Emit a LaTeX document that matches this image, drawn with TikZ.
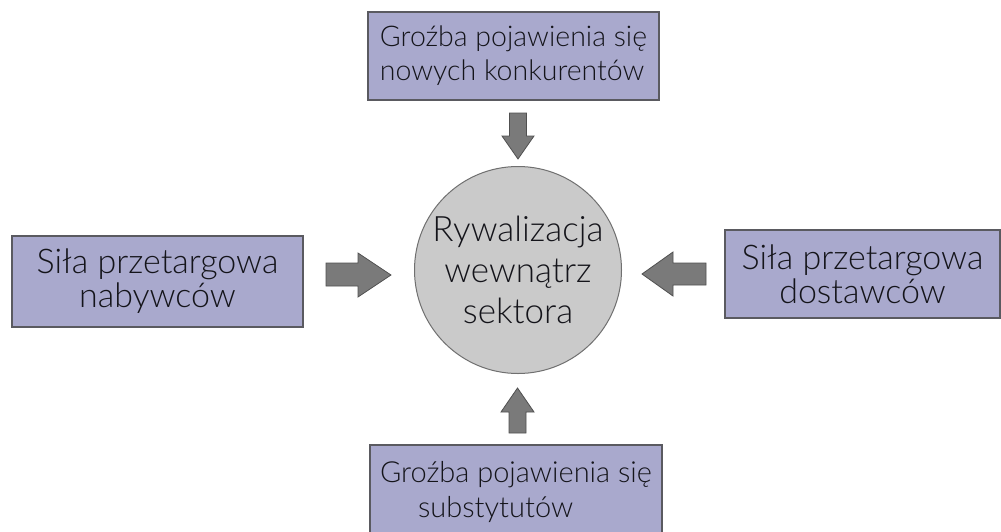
\documentclass[tikz,border=0pt]{standalone}
\usepackage{fontspec}
\setmainfont{Lato}[UprightFont=* Light]
\definecolor{boxfill}{RGB}{169,169,205}
\definecolor{boxline}{RGB}{90,90,96}
\definecolor{circfill}{RGB}{202,202,202}
\definecolor{circline}{RGB}{112,112,112}
\definecolor{arrfill}{RGB}{122,122,122}
\definecolor{arrline}{RGB}{80,80,80}
\definecolor{txt}{RGB}{20,20,26}
\begin{document}
\begin{tikzpicture}[x=1pt,y=-1pt,
  forcebox/.style={draw=boxline, fill=boxfill, line width=1.2pt, rectangle, inner sep=0pt, text=txt},
  smalltxt/.style={font=\fontsize{28.5}{34}\selectfont, align=left},
  bigtxt/.style={font=\fontsize{34}{34}\selectfont, align=center},
  hub/.style={draw=circline, fill=circfill, line width=1pt, circle, minimum size=207pt, inner sep=0pt, text=txt, font=\fontsize{35}{41}\selectfont, align=center},
  blockarrow/.style={draw=arrline, fill=arrfill, line width=0.8pt, line join=miter}]
\useasboundingbox (0,0) rectangle (1001,531);
\clip (0,0) rectangle (1001,531);
\fill[white] (0,0) rectangle (1001,531);

% centre
\node[hub] (hub) at (518,270) {Rywalizacja\\wewnątrz\\sektora};

% boxes
\node[forcebox, smalltxt, minimum width=291pt, minimum height=88pt] (top) at (513.5,56)
  {Groźba pojawienia się\\nowych konkurentów};
\node[forcebox, bigtxt, minimum width=291pt, minimum height=91pt] (left) at (157.5,281.5)
  {Siła przetargowa\\nabywców};
\node[forcebox, bigtxt, minimum width=275pt, minimum height=88pt] (right) at (862.5,274)
  {Siła przetargowa\\dostawców};
\node[forcebox, font=\fontsize{29}{35}\selectfont, align=left, minimum width=292pt, minimum height=93pt] (bottom) at (516,491.5)
  {Groźba pojawienia się\\\hspace*{38pt}substytutów};

% block arrows
\draw[blockarrow] (509.5,113) -- (526.5,113) -- (526.5,136) -- (534,136) -- (518,159)
  -- (502,136) -- (509.5,136) -- cycle;
\draw[blockarrow] (326,263) -- (358,263) -- (358,253) -- (391,275) -- (358,297)
  -- (358,286) -- (326,286) -- cycle;
\draw[blockarrow] (706,263) -- (673,263) -- (673,252) -- (642,274) -- (673,296)
  -- (673,285) -- (706,285) -- cycle;
\draw[blockarrow] (509,433) -- (509,412) -- (501,412) -- (517.5,388) -- (534,412)
  -- (526,412) -- (526,433) -- cycle;
\end{tikzpicture}
\end{document}
